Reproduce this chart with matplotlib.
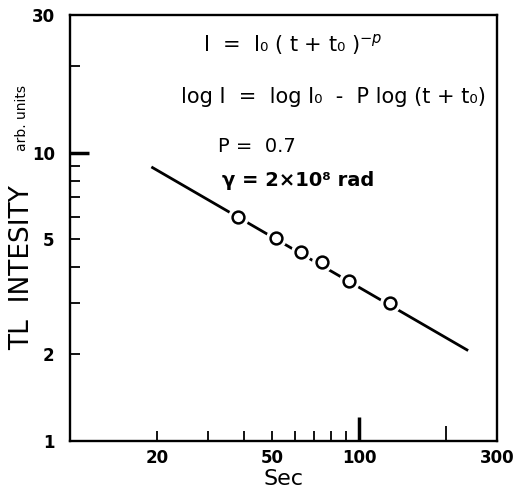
import matplotlib
matplotlib.use("Agg")
import matplotlib.pyplot as plt
from matplotlib.ticker import NullLocator

# data
t_points = [38, 51.7, 63, 74.5, 92, 128]
i_points = [6.0, 5.07, 4.53, 4.18, 3.59, 3.01]
t_line = [19.3, 236]
i_line = [8.87, 2.07]

x_ticks = [20, 30, 40, 50, 60, 70, 80, 90, 100, 200, 300]
x_labels = ["20", "", "", "50", "", "", "", "", "100", "", "300"]
y_ticks = [1, 2, 3, 4, 5, 6, 7, 8, 9, 10, 20, 30]
y_labels = ["1", "2", "", "", "5", "", "", "", "", "10", "", "30"]

plt.rcParams['font.family'] = ['DejaVu Sans']

fig = plt.figure(figsize=(5.24, 4.95), dpi=100)
ax = fig.add_axes([0.1336, 0.1091, 0.815, 0.8606])
ax.set_xscale('log')
ax.set_yscale('log')
ax.set_xlim(10, 300)
ax.set_ylim(1, 30)

for s in ax.spines.values():
    s.set_linewidth(1.7)

ax.plot(t_line, i_line, color='black', lw=2.0, zorder=2)
ax.plot(t_points, i_points, 'o', ms=14, mfc='white', mec='white', zorder=3)
ax.plot(t_points, i_points, 'o', ms=8.5, mfc='white', mec='black', mew=1.8, zorder=4)

ax.xaxis.set_minor_locator(NullLocator())
ax.yaxis.set_minor_locator(NullLocator())
ax.set_xticks(x_ticks)
ax.set_xticklabels(x_labels)
ax.set_yticks(y_ticks)
ax.set_yticklabels(y_labels)
ax.tick_params(axis='both', direction='in', length=7, width=1.3, labelsize=12)
ax.tick_params(axis='x', pad=6)
ax.tick_params(axis='y', pad=11)
for lab in ax.get_xticklabels() + ax.get_yticklabels():
    lab.set_fontweight('bold')

xt = ax.xaxis.get_major_ticks()
xt[x_ticks.index(100)].tick1line.set_markersize(17)
xt[x_ticks.index(100)].tick1line.set_markeredgewidth(2.5)
xt[x_ticks.index(200)].tick1line.set_markersize(11)
yt = ax.yaxis.get_major_ticks()
yt[y_ticks.index(10)].tick1line.set_markersize(14)
yt[y_ticks.index(10)].tick1line.set_markeredgewidth(2.5)

ax.set_xlabel("Sec", fontsize=16, labelpad=1)

fig.text(22/524, 1-268/495, "TL  INTESITY", rotation=90, fontsize=19,
         ha='center', va='center')
fig.text(22/524, 1-118/495, "arb. units", rotation=90, fontsize=10,
         ha='center', va='center')

fig.text(203/524, 1-45/495, "I  =  I₀ ( t + t₀ )$^{-p}$", fontsize=15,
         ha='left', va='center')
fig.text(181/524, 1-97/495, "log I  =  log I₀  -  P log (t + t₀)", fontsize=15,
         ha='left', va='center')
fig.text(218/524, 1-146/495, "P =  0.7", fontsize=14, ha='left', va='center')
fig.text(222/524, 1-181/495, "γ = 2×10⁸ rad", fontsize=14, fontweight='bold',
         ha='left', va='center')

fig.savefig("out.png", dpi=100)
